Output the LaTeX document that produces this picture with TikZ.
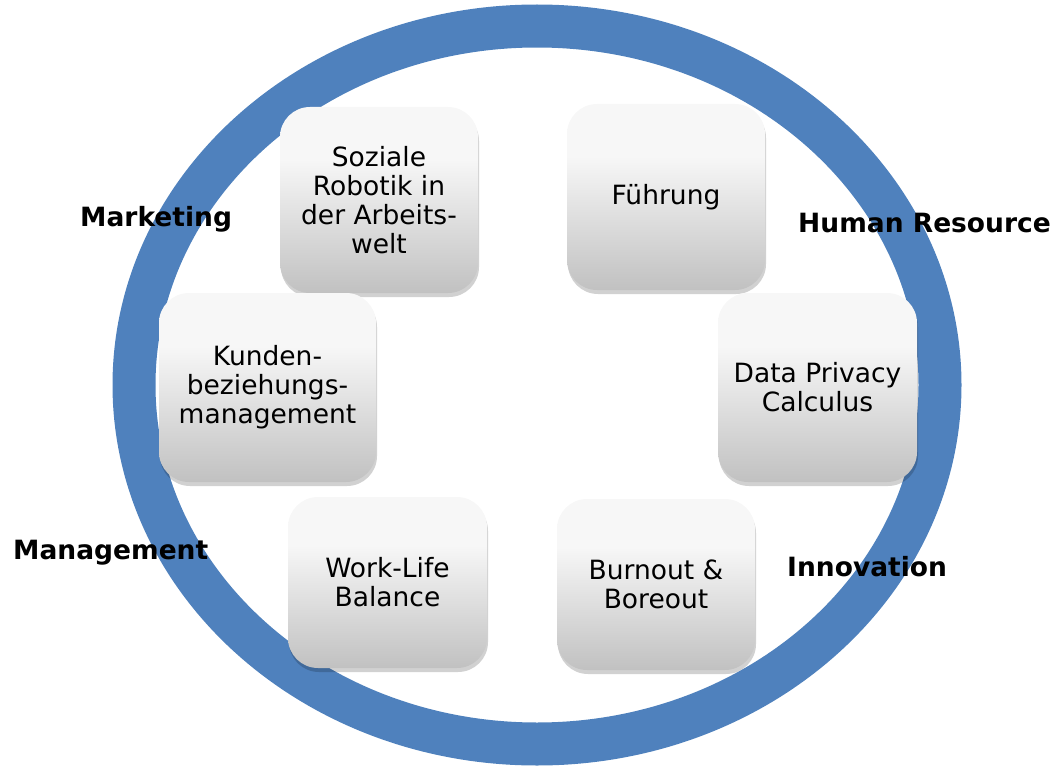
\documentclass[tikz,border=0pt]{standalone}
\usepackage{fontspec}
\setmainfont{DejaVu Sans}
\usetikzlibrary{shadows}
\definecolor{ringblue}{HTML}{4F81BD}
\definecolor{boxtop}{HTML}{F7F7F7}
\definecolor{boxbottom}{HTML}{C1C1C1}
\pgfdeclareverticalshading{boxshade}{100bp}{color(0bp)=(boxbottom); color(25bp)=(boxbottom);
  color(61bp)=(boxtop); color(100bp)=(boxtop)}
\tikzset{
  themebox/.style={rounded corners=30bp, align=center, shading=boxshade,
    drop shadow={shadow xshift=1bp, shadow yshift=-4bp, opacity=.18, fill=black},
    font=\fontsize{26.5bp}{29bp}\selectfont, inner sep=0pt},
  arealabel/.style={anchor=base west, inner sep=0pt,
    font=\fontsize{26.5bp}{29bp}\selectfont\bfseries}
}
\begin{document}
\begin{tikzpicture}[x=1bp, y=-1bp]
  \useasboundingbox (0,0) rectangle (1053,767);
  \draw[ringblue, line width=43bp] (537,385) ellipse [x radius=403, y radius=359];
  \path node[themebox, minimum width=198bp, minimum height=186bp] (robotik) at (379,200)
          {Soziale\\Robotik in\\der Arbeits-\\welt}
        node[themebox, minimum width=198bp, minimum height=186bp] (fuehrung) at (666,197)
          {Führung}
        node[themebox, minimum width=217bp, minimum height=189bp] (kunden) at (267.5,387.5)
          {Kunden-\\beziehungs-\\management}
        node[themebox, minimum width=199bp, minimum height=189bp] (privacy) at (817.5,387.5)
          {Data Privacy\\Calculus}
        node[themebox, minimum width=199bp, minimum height=171bp] (worklife) at (387.5,582.5)
          {Work-Life\\Balance}
        node[themebox, minimum width=198bp, minimum height=171bp] (burnout) at (656,584.5)
          {Burnout \&\\Boreout};
  \path node[arealabel] (marketing)  at (80,226)  {Marketing}
        node[arealabel] (hr)         at (798,232) {Human Resource}
        node[arealabel] (management) at (13,559)  {Management}
        node[arealabel] (innovation) at (787,576) {Innovation};
\end{tikzpicture}
\end{document}
